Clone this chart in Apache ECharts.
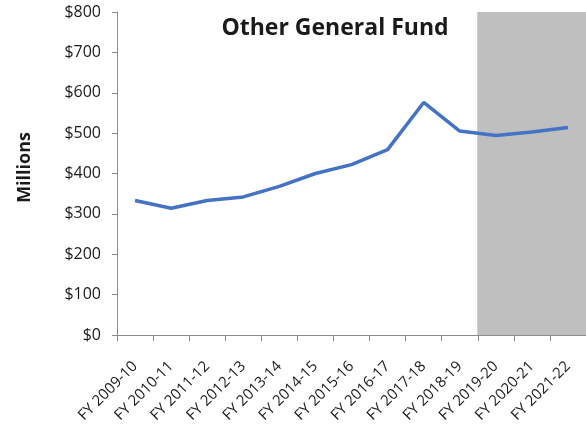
<!DOCTYPE html>
<html>
<head>
<meta charset="utf-8">
<script src="https://cdn.jsdelivr.net/npm/echarts@6/dist/echarts.min.js"></script>
<style>
  html, body { margin: 0; padding: 0; background: #ffffff; }
  #chart { width: 586px; height: 430px; }
</style>
</head>
<body>
<div id="chart"></div>
<script>
// Fiscal years on the horizontal axis
const categories = [
  'FY 2009-10', 'FY 2010-11', 'FY 2011-12', 'FY 2012-13', 'FY 2013-14',
  'FY 2014-15', 'FY 2015-16', 'FY 2016-17', 'FY 2017-18', 'FY 2018-19',
  'FY 2019-20', 'FY 2020-21', 'FY 2021-22'
];
// Other General Fund revenue, millions of dollars
const fundValues = [333, 314, 333, 342, 368, 400, 422, 459, 576, 505, 494, 503, 514];
// Projected years, shaded in grey over the full axis height
const projectedYears = ['FY 2019-20', 'FY 2020-21', 'FY 2021-22'];
const yTicks = [0, 100, 200, 300, 400, 500, 600, 700, 800];

const chart = echarts.init(document.getElementById('chart'), null, { renderer: 'canvas' });

const textColor = '#1a1a1a';
const axisColor = '#8c8c8c';
const bandColor = '#bfbfbf';
const yMax = yTicks[yTicks.length - 1];

chart.setOption({
  animation: false,
  title: {
    text: 'Other General Fund',
    left: 330,
    top: 12,
    textAlign: 'center',
    textStyle: { fontFamily: 'Open Sans', fontWeight: 'bold', fontSize: 23, color: textColor }
  },
  graphic: [{
    type: 'text',
    left: 16,
    top: 132,
    style: {
      text: 'Millions',
      fontFamily: 'Open Sans',
      fontWeight: 'bold',
      fontSize: 18,
      fill: textColor
    },
    rotation: Math.PI / 2
  }],
  grid: { left: 117, top: 12, width: 471, height: 323, containLabel: false },
  xAxis: {
    type: 'category',
    data: categories,
    boundaryGap: true,
    axisLine: { lineStyle: { color: axisColor, width: 1 } },
    axisTick: { show: true, interval: 0, length: 6, lineStyle: { color: axisColor } },
    axisLabel: {
      interval: 0,
      rotate: 45,
      margin: 29,
      fontFamily: 'Open Sans',
      fontSize: 15,
      color: textColor
    }
  },
  yAxis: {
    type: 'value',
    min: yTicks[0],
    max: yMax,
    interval: 100,
    splitLine: { show: false },
    axisLine: { show: true, lineStyle: { color: axisColor, width: 1 } },
    axisTick: { show: true, length: 5, lineStyle: { color: axisColor } },
    axisLabel: {
      margin: 16,
      fontFamily: 'Open Sans',
      fontSize: 16,
      color: textColor,
      formatter: v => '$' + v
    }
  },
  series: [
    {
      name: 'Projection',
      type: 'custom',
      silent: true,
      z: 1,
      data: projectedYears.map(y => [y, yMax]),
      renderItem: (params, api) => {
        const top = api.coord([api.value(0), api.value(1)]);
        const bottom = api.coord([api.value(0), 0]);
        const bw = api.size([1, 0])[0];
        return {
          type: 'rect',
          shape: { x: top[0] - bw / 2 - 0.5, y: top[1], width: bw + 1, height: bottom[1] - top[1] },
          style: { fill: bandColor }
        };
      }
    },
    {
      name: 'Other General Fund',
      type: 'line',
      data: fundValues,
      showSymbol: false,
      z: 5,
      lineStyle: { color: '#4472c4', width: 3.5 },
      itemStyle: { color: '#4472c4' }
    }
  ]
});
</script>
</body>
</html>
